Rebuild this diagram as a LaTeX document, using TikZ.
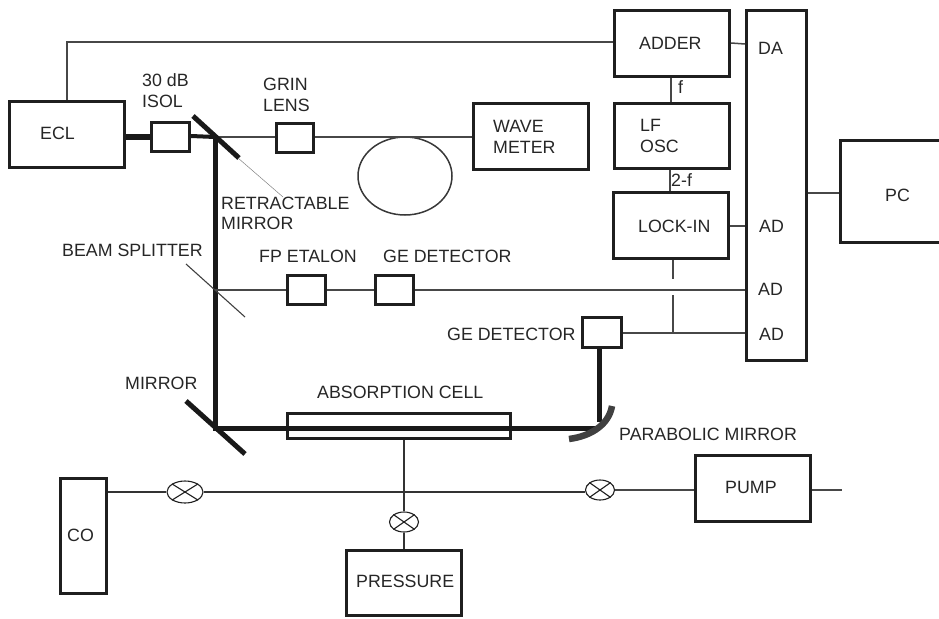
\documentclass[tikz,border=0pt]{standalone}
\usepackage{fontspec}
\usetikzlibrary{shapes.geometric}
\setmainfont{Liberation Sans}
\begin{document}
\begin{tikzpicture}[x=1pt,y=-1pt,
 boxn/.style={draw=black!88,line width=2.8pt,minimum width=0pt,inner sep=0pt,rectangle},
 wire/.style={draw=black!72,line width=1.5pt},
 gasw/.style={draw=black!80,line width=1.2pt},
 beam/.style={draw=black!90,line width=5pt},
 lab/.style={inner sep=0pt,text=black!85,font=\fontsize{17.8pt}{20pt}\selectfont,align=left},
 valve/.style={draw=black!88,line width=1.1pt}]
\useasboundingbox (0,0) rectangle (939,618);
\newcommand{\bx}[5]{\node[boxn,minimum width=#4-#2-2.8,minimum height=#5-#3-2.8,anchor=north west] (#1) at (#2,#3) {};}
\newcommand{\tx}[4]{\node[lab,anchor=base west] (#1) at (#2,#3) {#4};}
\coordinate (topc) at (67,42);
\coordinate (pumpend) at (842,490);
\coordinate (j1) at (673,333);
\coordinate (g1) at (673,295);
\coordinate (g2) at (673,279);
\coordinate (rm1) at (238,158);
\coordinate (rm2) at (283,197);
\coordinate (bs1) at (186,264);
\coordinate (bs2) at (245,317);
\coordinate (m1a) at (193,116);
\coordinate (m1b) at (239,158);
\coordinate (m2a) at (186,401);
\coordinate (m2b) at (245,454);
\coordinate (b1) at (215,137);
\coordinate (b2) at (215,428);
\coordinate (b3) at (598,428);
\coordinate (p1) at (569,439);
\coordinate (p2) at (612,406);
\coordinate (bs3) at (215,290);
% boxes
\bx{ecl}{8}{100}{126}{169}
\bx{isol}{150}{121}{191}{153}
\bx{grin}{275}{122}{315}{154}
\bx{wave}{472}{102}{590}{171}
\bx{adder}{613}{9}{731}{78}
\bx{lf}{613}{102}{731}{170}
\bx{lock}{612}{191}{730}{260}
\bx{daq}{745}{9}{808}{362}
\bx{pc}{839}{139}{945}{244}
\bx{fp}{286}{274}{327}{306}
\bx{ge}{374}{274}{415}{306}
\bx{ge2}{581}{316}{623}{349}
\bx{cell}{286}{412}{512}{440}
\bx{co}{59}{477}{108}{595}
\bx{press}{345}{549}{463}{617}
\bx{pump}{694}{454}{812}{523}
% oval
\node[draw=black!78,line width=1.5pt,ellipse,minimum width=94pt,minimum height=78pt,inner sep=0pt] (oval) at (405,176) {};
% valves
\node[valve,ellipse,minimum width=36pt,minimum height=22pt,inner sep=0pt] (v1) at (185,492) {};
\node[valve,ellipse,minimum width=29pt,minimum height=20pt,inner sep=0pt] (v2) at (404,522) {};
\node[valve,ellipse,minimum width=29pt,minimum height=20pt,inner sep=0pt] (v3) at (600,490) {};
\foreach \v in {v1,v2,v3}{
 \draw[valve] (\v.north west)--(\v.south east);
 \draw[valve] (\v.north east)--(\v.south west);}
% connectors
\draw[wire] (ecl.north -| topc) -- (topc) -- (topc -| adder.west);
\draw[wire] (grin.east |- b1) -- (wave.west |- b1);
\draw[beam,line width=5.5pt] (ecl.east |- 0,137) -- (isol.west |- 0,137);
\draw[beam,line width=4pt] (isol.east |- 0,136) -- (b1);
\draw[wire] (b1) -- (grin.west |- b1);
\draw[beam] (b1) -- (b2) -- (cell.west |- b2) -- (cell.east |- b2) -- (b3);
\draw[beam] (ge2.south -| 599.5,0) -- (599.5,422);
\draw[draw=black!75,line width=6.5pt] (p1) .. controls (592,436) and (609,424) .. (p2);
\draw[beam] (m1a) -- (m1b);
\draw[beam] (m2a) -- (m2b);
\draw[draw=black!75,line width=1.1pt] (bs1) -- (bs2);
\draw[draw=black!50,line width=0.5pt] (rm1) -- (rm2);
\draw[wire] (bs3) -- (fp.west |- bs3);
\draw[wire] (fp.east |- bs3) -- (ge.west |- bs3);
\draw[wire] (ge.east |- bs3) -- (daq.west |- bs3);
\draw[wire] (ge2.east |- j1) -- (daq.west |- j1);
\draw[wire] (lock.south -| g1) -- (g2);
\draw[wire] (g1) -- (j1);
\draw[wire] (adder.east |- 0,43) -- (daq.west |- 0,44);
\draw[wire] (lock.east |- 0,226) -- (daq.west |- 0,226);
\draw[wire] (daq.east |- 0,193) -- (pc.west |- 0,193);
\draw[wire] (adder.south -| 671,0) -- (lf.north -| 671,0);
\draw[wire] (lf.south -| 670,0) -- (lock.north -| 670,0);
\draw[gasw] (co.east |- v1) -- (v1.west);
\draw[gasw] (v1.east) -- (v3.west |- v1);
\draw[wire] (v3.east) -- (pump.west |- v3);
\draw[wire] (pump.east |- v3) -- (pumpend);
\draw[gasw] (cell.south -| v2) -- (v2.north);
\draw[gasw] (v2.south) -- (press.north -| v2);
% labels
\tx{t1}{40}{139}{ECL}
\tx{t2}{142}{86}{30 dB}
\tx{t3}{142}{107}{ISOL}
\tx{t4}{263}{90}{GRIN}
\tx{t5}{263}{111}{LENS}
\tx{t6}{493}{132}{WAVE}
\tx{t7}{493}{153}{METER}
\tx{t8}{221}{209}{RETRACTABLE}
\tx{t9}{221}{229}{MIRROR}
\tx{t10}{62}{256}{BEAM SPLITTER}
\tx{t11}{259}{262}{FP ETALON}
\tx{t12}{383}{262}{GE DETECTOR}
\tx{t13}{447}{340}{GE DETECTOR}
\tx{t14}{125}{389}{MIRROR}
\tx{t15}{317}{398}{ABSORPTION CELL}
\tx{t16}{619}{440}{PARABOLIC MIRROR}
\tx{t17}{639}{49}{ADDER}
\tx{t18}{640}{131}{LF}
\tx{t19}{640}{152}{OSC}
\tx{t20}{638}{232}{LOCK-IN}
\tx{t21}{758}{55}{DA}
\tx{t22}{759}{232}{AD}
\tx{t23}{758}{295}{AD}
\tx{t24}{759}{340}{AD}
\tx{t25}{885}{201}{PC}
\tx{t26}{678}{93}{f}
\tx{t27}{671}{186}{2-f}
\tx{t28}{67}{541}{CO}
\tx{t29}{356}{587}{PRESSURE}
\tx{t30}{725}{493}{PUMP}
\end{tikzpicture}
\end{document}
